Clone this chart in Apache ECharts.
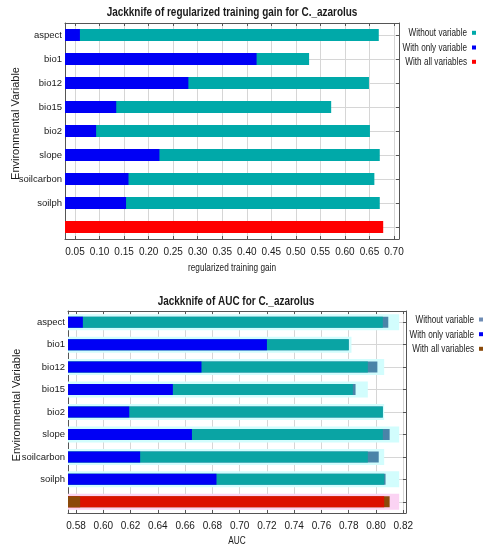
<!DOCTYPE html>
<html>
<head>
<meta charset="utf-8">
<script src="https://cdn.jsdelivr.net/npm/echarts@6/dist/echarts.min.js"></script>
<style>
html,body{margin:0;padding:0;background:#fff;}
#c{width:493px;height:550px;}
</style>
</head>
<body>
<div id="c"></div>
<script>
// ---- data ----
const categories = ['aspect', 'bio1', 'bio12', 'bio15', 'bio2', 'slope', 'soilcarbon', 'soilph', ''];
// Jackknife of regularized training gain
const gainWithout = [0.669, 0.527, 0.649, 0.572, 0.651, 0.671, 0.660, 0.671];
const gainOnly    = [0.060, 0.420, 0.281, 0.134, 0.093, 0.222, 0.159, 0.154];
const gainAll     = 0.678;
const gainTicks   = [0.05, 0.10, 0.15, 0.20, 0.25, 0.30, 0.35, 0.40, 0.45, 0.50, 0.55, 0.60, 0.65, 0.70];
// Jackknife of AUC
const aucWithoutTrain = [0.805, 0.780, 0.794, 0.783, 0.805, 0.805, 0.794, 0.806];
const aucWithoutTest  = [0.809, 0.780, 0.801, 0.785, 0.805, 0.810, 0.802, 0.807];
const aucOnly         = [0.585, 0.720, 0.672, 0.651, 0.619, 0.665, 0.627, 0.683];
const aucHalo         = [0.817, 0.782, 0.806, 0.794, 0.806, 0.817, 0.806, 0.817, 0.817];
const aucAllTrain     = 0.806;
const aucAllTest      = 0.810;
const aucAllBase      = 0.583;
const aucTicks        = [0.58, 0.60, 0.62, 0.64, 0.66, 0.68, 0.70, 0.72, 0.74, 0.76, 0.78, 0.80, 0.82];
// texts
const titles      = ['Jackknife of regularized training gain for C._azarolus', 'Jackknife of AUC for C._azarolus'];
const xNames      = ['regularized training gain', 'AUC'];
const yName       = 'Environmental Variable';
const legendNames = ['Without variable', 'With only variable', 'With all variables'];

// ---- helpers ----
const N = categories.length;
const rows = arr => arr.concat([null]);
const lastOnly = v => Array(N - 1).fill(null).concat([v]);

const SANS = '"Liberation Sans",Arial,sans-serif';
const FRAME = '#555';
const GRIDC = '#d6d6d6';
const TXT = '#1a1a1a';

const C = {
  teal: '#00a9a9', blue: '#0000f5', red: '#ff0000',
  teal2: '#0aa4a4', gray: '#4a84a8', red2: '#dc1000', brown: '#8b4a0a',
  cyan: '#d2fdfd', pink: '#fbd3f3', legGray: '#6f8db5'
};

function valueAxes(gridIndex, min, max, ticks) {
  const fmt = v => v.toFixed(2);
  return [{
    type: 'value', gridIndex, position: 'bottom', min, max, startValue: min,
    axisLine: {show: true, lineStyle: {color: FRAME}},
    axisTick: {show: true, inside: true, length: 3, customValues: ticks, lineStyle: {color: FRAME}},
    axisLabel: {customValues: ticks, formatter: fmt, margin: 8, fontFamily: SANS, fontSize: 10, color: TXT},
    splitLine: {show: true, lineStyle: {color: GRIDC, width: 1}}
  }, {
    type: 'value', gridIndex, position: 'top', min, max,
    axisLine: {show: true, lineStyle: {color: FRAME}},
    axisTick: {show: true, inside: true, length: 3, customValues: ticks, lineStyle: {color: FRAME}},
    axisLabel: {show: false},
    splitLine: {show: false}
  }];
}
function catAxes(gridIndex) {
  return [{
    type: 'category', gridIndex, position: 'left', inverse: true, data: categories,
    axisLine: {show: true, lineStyle: {color: FRAME}},
    axisTick: {show: false},
    axisLabel: {margin: 3, fontFamily: SANS, fontSize: 9.5, color: TXT},
    splitLine: {show: false}
  }, {
    type: 'category', gridIndex, position: 'right', inverse: true, data: categories,
    axisLine: {show: true, lineStyle: {color: FRAME}},
    axisTick: {show: true, inside: true, length: 3, alignWithLabel: true, lineStyle: {color: FRAME}},
    axisLabel: {show: false},
    splitLine: {show: true, alignWithLabel: true, lineStyle: {color: GRIDC, width: 1}}
  }];
}

const xA = valueAxes(0, 0.0296, 0.7102, gainTicks).concat(valueAxes(1, 0.5741, 0.8220, aucTicks));
const yA = catAxes(0).concat(catAxes(1));

function bar(name, data, color, xi, yi, width) {
  return {
    type: 'bar', name, data, xAxisIndex: xi, yAxisIndex: yi,
    barWidth: width, barGap: '-100%', itemStyle: {color},
    emphasis: {disabled: true}, animation: false, silent: true
  };
}

const series = [
  // top chart
  bar('without', rows(gainWithout), C.teal, 0, 0, 12),
  bar('only', rows(gainOnly), C.blue, 0, 0, 12),
  bar('all', lastOnly(gainAll), C.red, 0, 0, 12),
  // bottom chart
  Object.assign(bar('halo', aucHalo, C.cyan, 2, 3, 16), {
    itemStyle: {color: p => p.dataIndex === N - 1 ? C.pink : C.cyan}
  }),
  bar('withoutTest', rows(aucWithoutTest), C.gray, 2, 2, 11),
  bar('withoutTrain', rows(aucWithoutTrain), C.teal2, 2, 2, 11),
  bar('onlyAuc', rows(aucOnly), C.blue, 2, 2, 11),
  bar('allTest', lastOnly(aucAllTest), C.brown, 2, 2, 11),
  bar('allTrain', lastOnly(aucAllTrain), C.red2, 2, 2, 11),
  bar('allBase', lastOnly(aucAllBase), C.brown, 2, 2, 11)
];

// text helpers (horizontally condensed like the original figure)
function txt(text, x, y, font, sx, align, rot) {
  return {
    type: 'text', x, y, scaleX: sx || 1, rotation: rot || 0, silent: true,
    style: {text, font, fill: TXT, textAlign: align || 'center', textVerticalAlign: 'middle'}
  };
}
function legendGraphics(rightX, ys, colors) {
  const out = [];
  legendNames.forEach((n, i) => {
    out.push(txt(n, rightX, ys[i], '11.5px ' + SANS, 0.71, 'right'));
    out.push({type: 'rect', silent: true, shape: {x: rightX + 5, y: ys[i] - 2.5, width: 4, height: 4}, style: {fill: colors[i]}});
  });
  return out;
}

const graphic = [
  txt(titles[0], 232, 13, 'bold 12px ' + SANS, 0.83),
  txt(titles[1], 236, 301.5, 'bold 12px ' + SANS, 0.83),
  txt(xNames[0], 232, 268, '11px ' + SANS, 0.75),
  txt(xNames[1], 237, 541, '11px ' + SANS, 0.75),
  txt(yName, 15.5, 123.5, '11px ' + SANS, 1, 'center', Math.PI / 2),
  txt(yName, 17, 405, '11px ' + SANS, 1, 'center', Math.PI / 2)
].concat(legendGraphics(467, [33.3, 48, 62.3], [C.teal, C.blue, C.red]))
 .concat(legendGraphics(474, [320, 334.7, 349.3], [C.legGray, C.blue, C.brown]));

const option = {
  backgroundColor: '#fff',
  animation: false,
  grid: [
    {left: 65, right: 94, top: 23, height: 216, containLabel: false},
    {left: 68, right: 87, top: 311, height: 202, containLabel: false}
  ],
  xAxis: xA,
  yAxis: yA,
  series,
  graphic
};

const chart = echarts.init(document.getElementById('c'), null, {renderer: 'canvas'});
chart.setOption(option);
</script>
</body>
</html>
